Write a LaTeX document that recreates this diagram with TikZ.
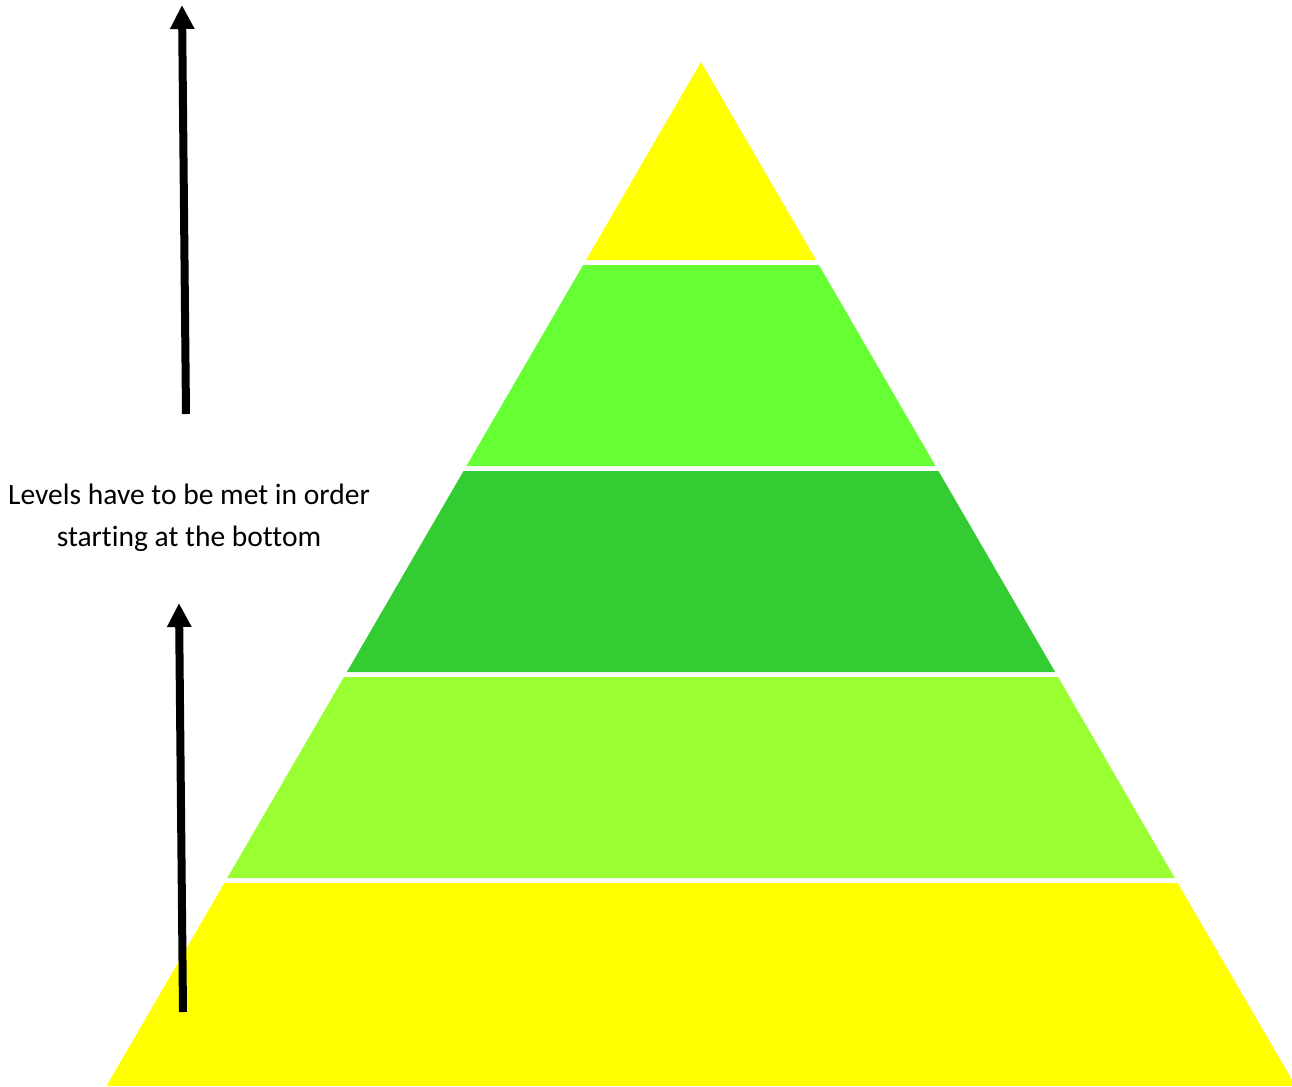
\documentclass[tikz,border=0pt]{standalone}
\usepackage{fontspec}
\setmainfont{Carlito}[Ligatures=NoCommon]
\usetikzlibrary{arrows.meta,positioning}
\definecolor{lvlyellow}{RGB}{255,255,0}
\definecolor{lvllime}{RGB}{102,255,51}
\definecolor{lvlgreen}{RGB}{51,204,51}
\definecolor{lvlpale}{RGB}{153,255,51}

\begin{document}
\begin{tikzpicture}[x=0.2mm,y=-0.2mm,
    band/.style={fill=#1,draw=none},
    uparr/.style={-{Triangle[width=4.6mm,length=4.8mm]},line width=1.6mm,black},
    note/.style={align=center,font=\fontsize{16.8}{24}\selectfont}
  ]
    \useasboundingbox (0,0) rectangle (1292,1086);

    % pyramid levels, top to bottom
    \foreach \ytop/\ybot/\col in {62/260/lvlyellow,265/466/lvllime,471/672/lvlgreen,677/878/lvlpale,883/1086/lvlyellow}
      \fill[band=\col] ({701-0.5806*(\ytop-62)},\ytop) -- ({701+0.5806*(\ytop-62)},\ytop)
        -- ({701+0.5806*(\ybot-62)},\ybot) -- ({701-0.5806*(\ybot-62)},\ybot) -- cycle;

    \node[note] (txt) at (189,518) {Levels have to be met in order\\starting at the bottom};

    \coordinate (upfoot) at (186,414);
    \coordinate (uptip) at (182,5);
    \coordinate (lowfoot) at (183,1012);
    \coordinate (lowtip) at (179,603);

    \draw[uparr] (upfoot) -- (uptip);
    \draw[uparr] (lowfoot) -- (lowtip);
  \end{tikzpicture}
\end{document}
